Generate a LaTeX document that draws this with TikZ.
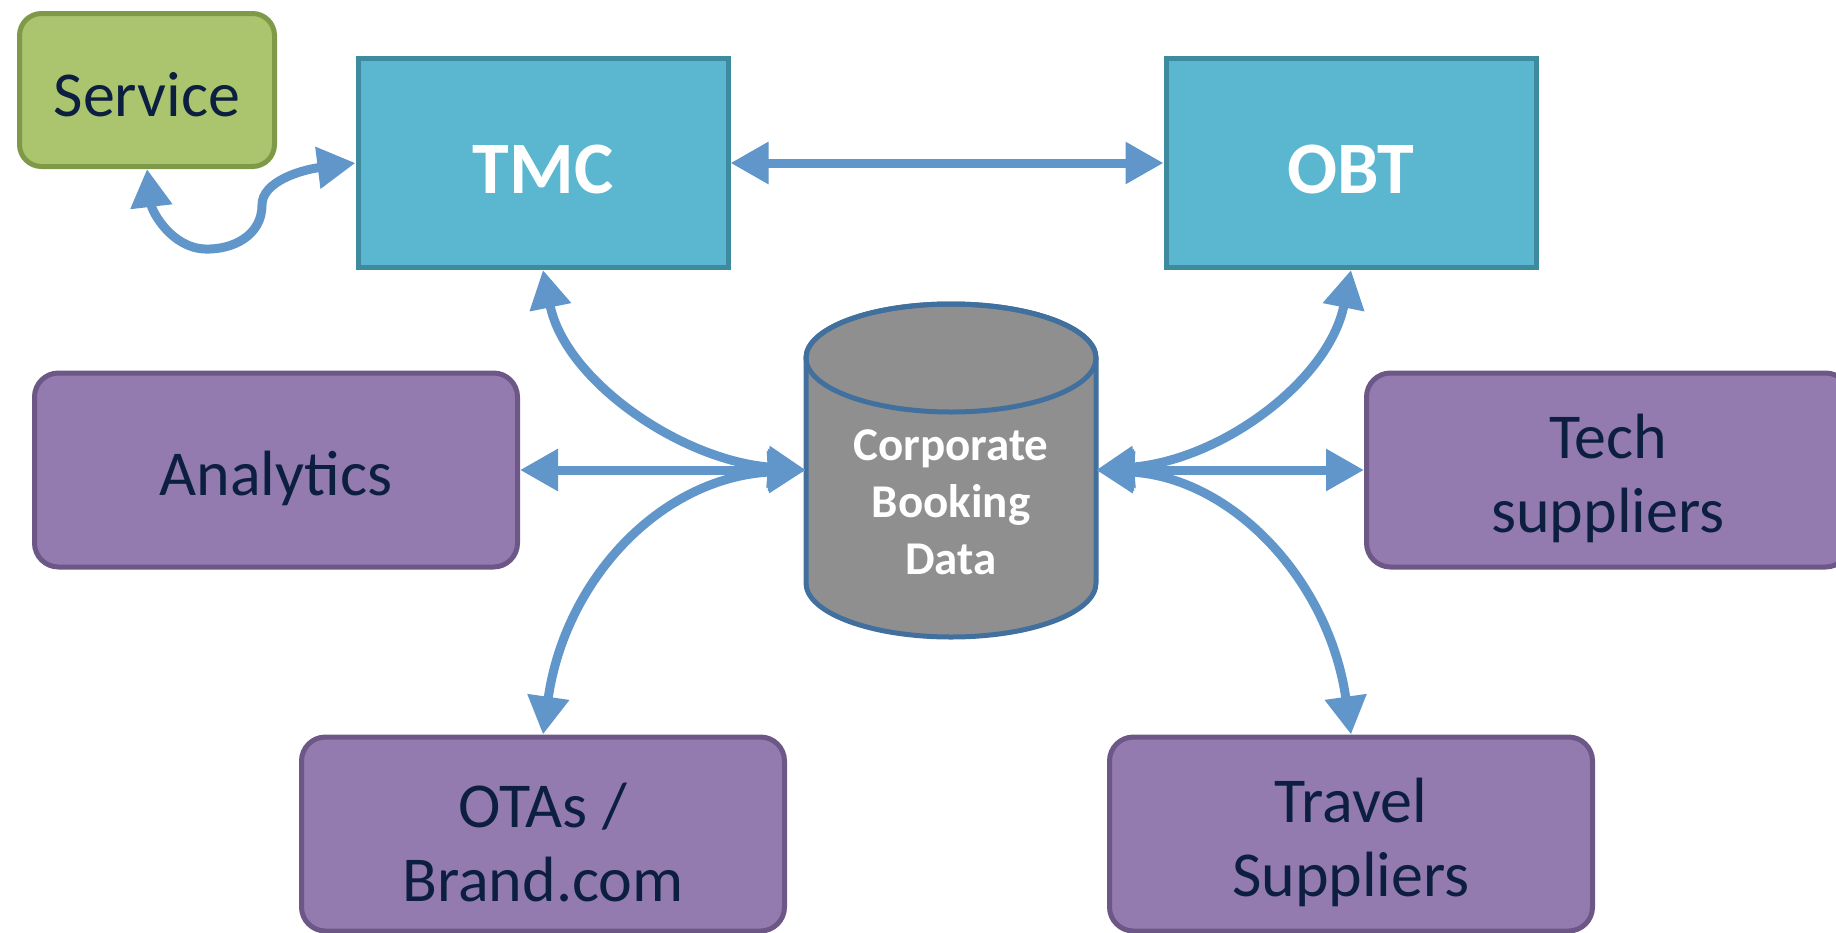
\documentclass[tikz,border=0pt]{standalone}
\usepackage{fontspec}
\setmainfont{Carlito}
\usetikzlibrary{arrows.meta}

\begin{document}
\begin{tikzpicture}[x=1pt,y=1pt,yscale=-1,xscale=1]

% --- CONFIGURATION ---
\definecolor{arrowBlue}{RGB}{96, 150, 202}   % connectors
\definecolor{cyanFill}{RGB}{91, 183, 208}    % TMC / OBT
\definecolor{cyanLine}{RGB}{62, 139, 160}
\definecolor{purpFill}{RGB}{147, 123, 176}   % partner boxes
\definecolor{purpLine}{RGB}{108, 87, 134}
\definecolor{greenFill}{RGB}{171, 196, 110}  % service
\definecolor{greenLine}{RGB}{126, 154, 72}
\definecolor{cylFill}{RGB}{143, 143, 143}    % data store
\definecolor{cylLine}{RGB}{65, 112, 159}
\definecolor{navyText}{RGB}{13, 31, 64}

\tikzset{
  dropped/.style={execute at begin node={\rule{0pt}{#1}}},
  twoline/.style={dropped=\dimexpr74pt+0.95em\relax},
  hub/.style={draw=cyanLine, fill=cyanFill, line width=5pt, minimum width=370pt,
    minimum height=209pt, text=white, font=\fontsize{74}{80}\selectfont\bfseries, dropped=0.83em},
  partner/.style={draw=purpLine, fill=purpFill, line width=5pt, rounded corners=24pt,
    minimum width=483pt, minimum height=194pt, text=navyText, align=center,
    font=\fontsize{64}{74}\selectfont},
  servicebox/.style={draw=greenLine, fill=greenFill, line width=5pt, rounded corners=22pt,
    minimum width=255pt, minimum height=153pt, text=navyText,
    font=\fontsize{64}{74}\selectfont, dropped=0.84em},
  link/.style={draw=arrowBlue, line width=9pt,
    {Triangle[width=40pt,length=38pt]}-{Triangle[width=40pt,length=38pt]}}
}

\useasboundingbox (0,0) rectangle (1836,932);

% --- DATA STORE (cylinder) ---
\draw[fill=cylFill, draw=cylLine, line width=5pt]
  (806,358) -- (806,583) arc[start angle=180, end angle=0, x radius=145, y radius=54]
  -- (1096,358) arc[start angle=0, end angle=-180, x radius=145, y radius=54] -- cycle;
\draw[draw=cylLine, line width=5pt] (951,358) ellipse[x radius=145, y radius=54];
\node[minimum width=290pt, minimum height=333pt, inner sep=0pt] (cbd) at (951,470) {};
\node[text=white, align=center, font=\fontsize{47}{57}\selectfont\bfseries] (cbdtext) at (951,502)
  {Corporate\\Booking\\Data};

% --- BOXES ---
\node[servicebox] (service) at (147,90) {Service};
\node[hub] (tmc) at (543,163) {TMC};
\node[hub] (obt) at (1351,163) {OBT};
\node[partner, dropped=0.95em] (analytics) at (276,470) {Analytics};
\node[partner, twoline] (tech) at (1608,470) {Tech\\suppliers};
\node[partner, twoline] (otas) at (543,834) {OTAs /\\Brand.com};
\node[partner, twoline] (travel) at (1351,834) {Travel\\Suppliers};

% --- CONNECTORS ---
\draw[link] (tmc.east) -- (obt.west);
\draw[link] (tmc.west) .. controls (300,170) and (262,182) .. (262,205)
  .. controls (262,236) and (232,250) .. (205,249)
  .. controls (172,248) and (152,212) .. (service.south);

\draw[link] (analytics.east) -- (cbd.west);
\draw[link] (tmc.south) .. controls (565,380) and (680,460) .. (cbd.west);
\draw[link] (otas.north) .. controls (565,580) and (660,478) .. (cbd.west);

\draw[link] (tech.west) -- (cbd.east);
\draw[link] (obt.south) .. controls (1329,380) and (1222,460) .. (cbd.east);
\draw[link] (travel.north) .. controls (1329,580) and (1232,478) .. (cbd.east);

\end{tikzpicture}
\end{document}
